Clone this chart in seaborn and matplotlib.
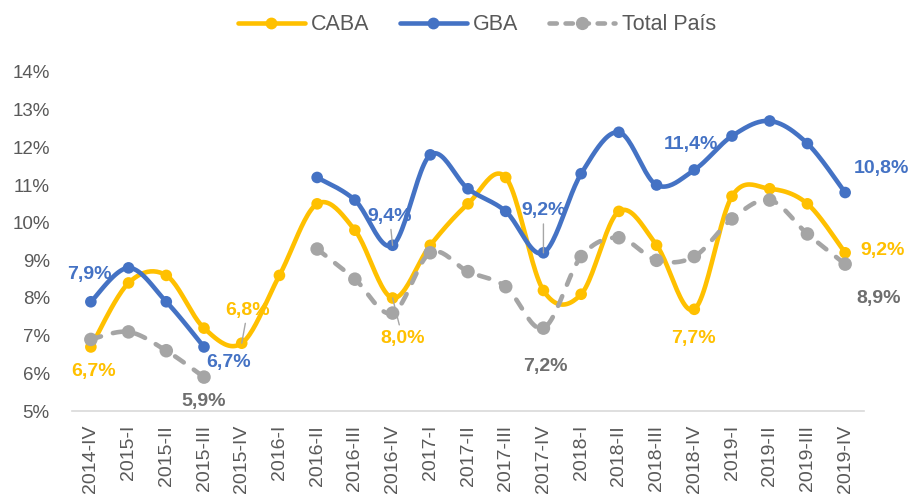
import numpy as np
import pandas as pd
import matplotlib
matplotlib.use('Agg')
import matplotlib.pyplot as plt
from matplotlib.lines import Line2D
import seaborn as sns

# Datos (% de desocupación)
periodos = ['2014-IV', '2015-I', '2015-II', '2015-III', '2015-IV', '2016-I', '2016-II',
            '2016-III', '2016-IV', '2017-I', '2017-II', '2017-III', '2017-IV', '2018-I',
            '2018-II', '2018-III', '2018-IV', '2019-I', '2019-II', '2019-III', '2019-IV']
caba = [6.7, 8.4, 8.6, 7.2, 6.8, 8.6, 10.5, 9.8, 8.0, 9.4, 10.5, 11.2, 8.2, 8.1,
        10.3, 9.4, 7.7, 10.7, 10.9, 10.5, 9.2]
gba = [7.9, 8.8, 7.9, 6.7, np.nan, np.nan, 11.2, 10.6, 9.4, 11.8, 10.9, 10.3, 9.2, 11.3,
       12.4, 11.0, 11.4, 12.3, 12.7, 12.1, 10.8]
total_pais = [6.9, 7.1, 6.6, 5.9, np.nan, np.nan, 9.3, 8.5, 7.6, 9.2, 8.7, 8.3, 7.2, 9.1,
              9.6, 9.0, 9.1, 10.1, 10.6, 9.7, 8.9]
y_ticks = [5, 6, 7, 8, 9, 10, 11, 12, 13, 14]

series = {'CABA': caba, 'GBA': gba, 'Total País': total_pais}
colores = {'CABA': '#FFC000', 'GBA': '#4472C4', 'Total País': '#A5A5A5'}
color_etiqueta = {'CABA': '#FFC000', 'GBA': '#4472C4', 'Total País': '#6E6E6E'}

# etiquetas: (serie, indice, dx px, dy px, linea guia)
etiquetas = [
    ('CABA', 0, 3, -25, False), ('CABA', 4, 6, 33, True), ('CABA', 8, 10, -40, True),
    ('CABA', 16, -1, -29, False), ('CABA', 20, 37, 2, False),
    ('GBA', 0, -1, 27, False), ('GBA', 3, 25, -16, False), ('GBA', 8, -3, 29, True),
    ('GBA', 12, 0, 42, True), ('GBA', 16, -3, 25, False), ('GBA', 20, 36, 24, False),
    ('Total País', 3, 0, -24, False), ('Total País', 12, 2, -38, False),
    ('Total País', 20, 33, -34, False),
]


# Suavizado tipo Excel (Bezier / Catmull-Rom) por tramos sin huecos
def suavizar(xs, ys, n=25):
    xs = np.asarray(xs, float)
    ys = np.asarray(ys, float)
    tramos = []
    ok = ~np.isnan(ys)
    i = 0
    while i < len(ys):
        if not ok[i]:
            i += 1
            continue
        j = i
        while j < len(ys) and ok[j]:
            j += 1
        pts = np.column_stack([xs[i:j], ys[i:j]])
        if len(pts) > 1:
            curva = []
            t = np.linspace(0, 1, n)[:, None]
            for k in range(len(pts) - 1):
                p0 = pts[k - 1] if k > 0 else pts[k]
                p1 = pts[k]
                p2 = pts[k + 1]
                p3 = pts[k + 2] if k + 2 < len(pts) else pts[k + 1]
                c1 = p1 + (p2 - p0) / 6
                c2 = p2 - (p3 - p1) / 6
                b = ((1 - t) ** 3) * p1 + 3 * ((1 - t) ** 2) * t * c1 + 3 * (1 - t) * t ** 2 * c2 + t ** 3 * p2
                curva.append(b if k == 0 else b[1:])
            tramos.append(np.vstack(curva))
        i = j
    return tramos


sns.set_theme(style='white')
plt.rcParams['font.family'] = ['Liberation Sans', 'DejaVu Sans']

fig = plt.figure(figsize=(9.12, 5), dpi=100)
ax = fig.add_axes([72 / 912, 89 / 500, 792 / 912, 339 / 500])

x = np.arange(len(periodos))
for nombre, valores in series.items():
    col = colores[nombre]
    for seg in suavizar(x, valores):
        df = pd.DataFrame({'x': seg[:, 0], 'y': seg[:, 1]})
        sns.lineplot(data=df, x='x', y='y', ax=ax, color=col, lw=3.3, sort=False,
                     estimator=None, zorder=3)
        linea = ax.lines[-1]
        linea.set_solid_capstyle('round')
        if nombre == 'Total País':
            linea.set_dashes((2.3, 2.7))
            linea.set_dash_capstyle('round')
    pts = pd.DataFrame({'x': x, 'y': valores}).dropna()
    sns.scatterplot(data=pts, x='x', y='y', ax=ax, color=col, s=95 if nombre == 'Total País' else 70,
                    edgecolor='none', zorder=4, clip_on=False)

for nombre, idx, dx, dy, guia in etiquetas:
    v = series[nombre][idx]
    txt = f"{v:.1f}".replace('.', ',') + '%'
    props = dict(arrowstyle='-', color='#A6A6A6', lw=1, shrinkA=1, shrinkB=0) if guia else None
    ax.annotate(txt, xy=(idx, v), xytext=(dx, dy), textcoords='offset pixels',
                ha='center', va='center', fontsize=14, fontweight='bold',
                color=color_etiqueta[nombre], arrowprops=props, zorder=6)

ax.set_xlim(-0.5, len(periodos) - 0.5)
ax.set_ylim(5, 14)
ax.set_xticks(x)
ax.set_xticklabels(periodos, rotation=90, fontsize=14, color='#595959')
ax.set_yticks(y_ticks)
ax.set_yticklabels([f"{t}%" for t in y_ticks], fontsize=13.5, color='#595959')
ax.tick_params(axis='x', length=0, pad=10)
ax.tick_params(axis='y', length=0, pad=16)
ax.set_xlabel('')
ax.set_ylabel('')
for s in ['top', 'right', 'left']:
    ax.spines[s].set_visible(False)
ax.spines['bottom'].set_color('#D9D9D9')
ax.spines['bottom'].set_linewidth(1.2)
ax.grid(False)

handles = []
for nombre in series:
    h = Line2D([0], [0], color=colores[nombre], lw=3.3, marker='o',
               markersize=8.5 if nombre == 'Total País' else 7.5, solid_capstyle='round')
    if nombre == 'Total País':
        h.set_dashes((1.6, 1.9))
        h.set_dash_capstyle('round')
    handles.append(h)
leg = fig.legend(handles, list(series.keys()), loc='center', bbox_to_anchor=(0.523, 0.950),
                 ncol=3, frameon=False, fontsize=15.5, handlelength=3.1, handletextpad=0.3,
                 columnspacing=1.4)
for t in leg.get_texts():
    t.set_color('#595959')

fig.savefig('out.png', dpi=100)
